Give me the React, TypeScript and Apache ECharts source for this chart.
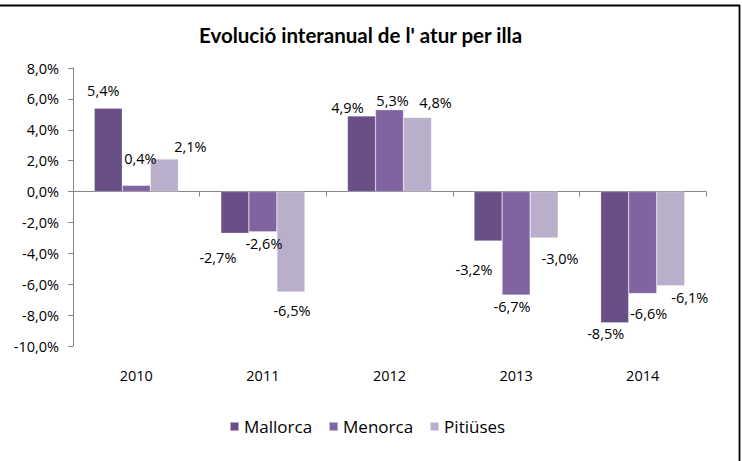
import React, { useEffect, useRef } from "react";
import * as echarts from "echarts";

const years = ["2010", "2011", "2012", "2013", "2014"];
const mallorca = [5.4, -2.7, 4.9, -3.2, -8.5];
const menorca = [0.4, -2.6, 5.3, -6.7, -6.6];
const pitiuses = [2.1, -6.5, 4.8, -3.0, -6.1];
const seriesNames = ["Mallorca", "Menorca", "Pitiüses"];
const colors = ["#684F86", "#8064A2", "#B9AFCB"];

// label nudges (Excel overlap avoidance), per series per category
const labelOffsets: number[][][] = [
  [[-5, -5], [-17, 12], [-14, 4], [-14, 16], [-9, -2]],
  [[4, -14], [1, -1], [3, 3], [-4, -1], [6, 8]],
  [[26, 0], [1, 6], [18, -2], [16, 8], [19, -1]],
];

const fmt = (v: number) => v.toFixed(1).replace(".", ",") + "%";
const FONT = "Open Sans";

export default function App() {
  const ref = useRef<HTMLDivElement>(null);
  useEffect(() => {
    if (!ref.current) return;
    const chart = echarts.init(ref.current, null, { renderer: "svg" });
    const all = [mallorca, menorca, pitiuses];
    chart.setOption({
      animation: false,
      backgroundColor: "#fff",
      title: {
        text: "Evolució interanual de l' atur per illa",
        left: 194,
        top: 19,
        textStyle: { fontFamily: "Lato", fontWeight: "bold", fontSize: 20.5, color: "#000" },
      },
      legend: {
        top: 413,
        left: 224,
        itemWidth: 9,
        itemHeight: 9,
        itemGap: 16,
        icon: "rect",
        textStyle: { fontFamily: FONT, fontSize: 17, color: "#000" },
        data: seriesNames,
      },
      grid: { left: 73, right: 36, top: 68, bottom: 115, containLabel: false },
      xAxis: {
        type: "category",
        data: years,
        axisLine: { onZero: true, lineStyle: { color: "#868686", width: 1 } },
        axisTick: { show: true, length: 5, lineStyle: { color: "#868686" } },
        axisLabel: { margin: 22, fontFamily: FONT, fontSize: 14.5, color: "#000" },
      },
      yAxis: {
        type: "value",
        min: -10,
        max: 8,
        interval: 2,
        splitLine: { show: false },
        axisLine: { show: true, lineStyle: { color: "#868686", width: 1 } },
        axisTick: { show: true, length: 5, lineStyle: { color: "#868686" } },
        axisLabel: { margin: 14, fontFamily: FONT, fontSize: 14.5, color: "#000", formatter: (v: number) => fmt(v) },
      },
      series: all.map((vals, si) => ({
        name: seriesNames[si],
        type: "bar",
        barGap: 0,
        barCategoryGap: "33.6%",
        itemStyle: { color: colors[si], borderColor: "rgba(255,255,255,0.5)", borderWidth: 0.5 },
        data: vals.map((v, ci) => ({
          value: v,
          label: {
            show: true,
            position: v >= 0 ? "top" : "bottom",
            distance: 5,
            offset: labelOffsets[si][ci],
            formatter: fmt(v),
            fontFamily: FONT,
            fontSize: 14.5,
            color: "#000",
          },
        })),
      })),
      graphic: [
        { type: "line", shape: { x1: 0, y1: 5.5, x2: 740, y2: 5.5 }, style: { stroke: "#000", lineWidth: 1.8 } },
        { type: "line", shape: { x1: 739.5, y1: 5, x2: 739.5, y2: 461 }, style: { stroke: "#000", lineWidth: 1.8 } },
      ],
    });
    return () => chart.dispose();
  }, []);
  return (
    <div
      ref={ref}
      style={{ position: "fixed", left: 0, top: 0, width: 742, height: 461 }}
    />
  );
}
